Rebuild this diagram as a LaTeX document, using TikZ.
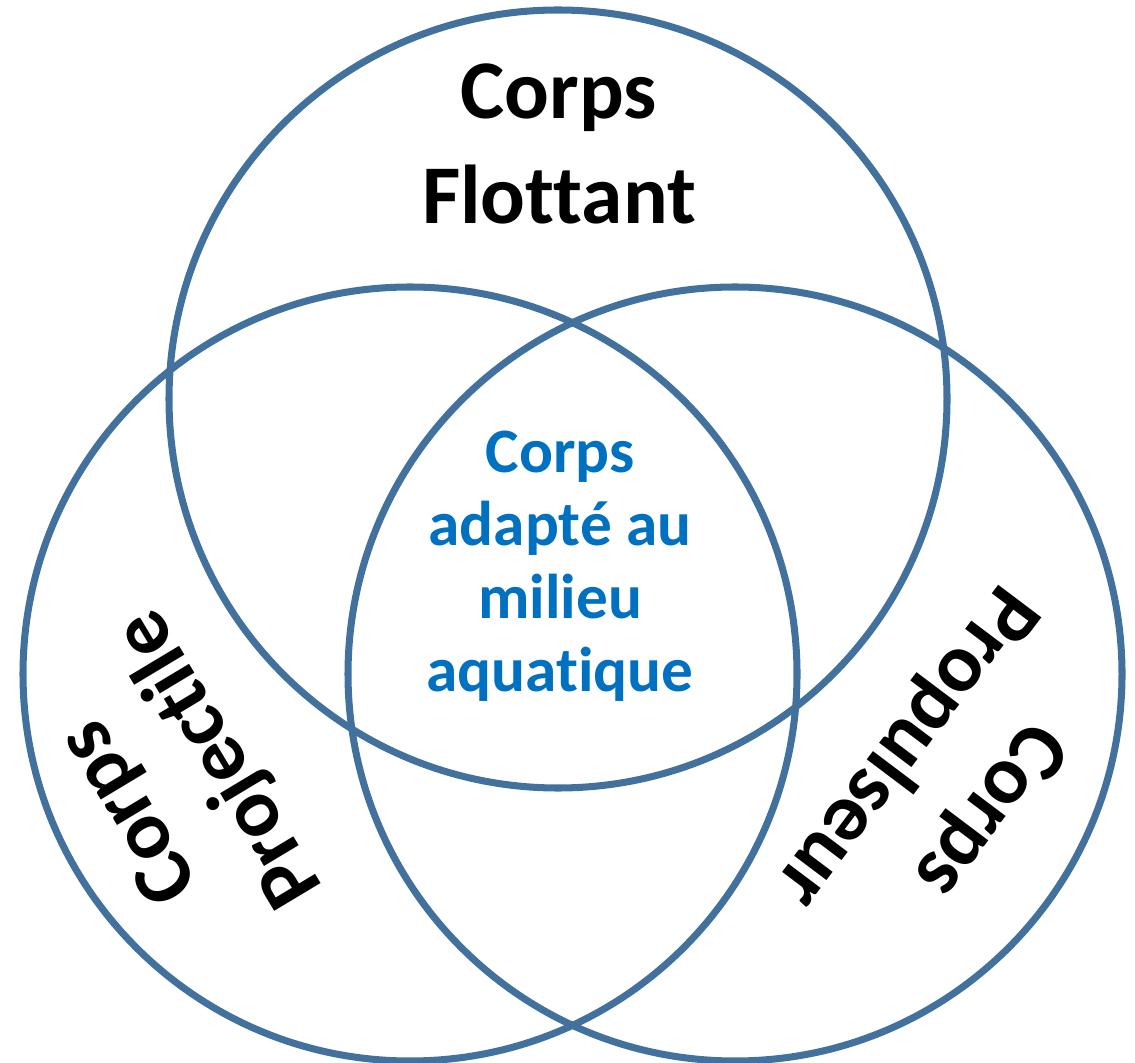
\documentclass[tikz,border=0pt]{standalone}
\usepackage{fontspec}
\setmainfont[Ligatures=NoCommon]{Carlito}
\usepackage{xcolor}
\usepackage{tikz}

\definecolor{ringblue}{HTML}{41719C}
\definecolor{textblue}{HTML}{0070C0}

\begin{document}
\begin{tikzpicture}

\useasboundingbox (0,0) rectangle (22.7,21.24);

\foreach \x/\y/\r in {11.16/13.26/7.78, 8.2/7.76/7.74, 14.7/7.76/7.74}{
	\draw[color=ringblue, line width=4pt] (\x,\y) circle (\r);
}

\node[align=center, inner sep=0, font=\fontsize{47.5}{59.8}\selectfont\bfseries] (flottant) at (11.18,18.36) {Corps\\Flottant};

\node[align=center, inner sep=0, text=textblue, font=\fontsize{36}{41.6}\selectfont\bfseries] (milieu) at (11.2,9.91) {Corps\\adapté au\\milieu\\aquatique};

\node[align=center, inner sep=0, rotate=121, font=\fontsize{47.5}{59.8}\selectfont\bfseries] (projectile) at (3.54,5.56) {Corps\\Projectile};

\node[align=center, inner sep=0, rotate=-127, font=\fontsize{47.5}{59.8}\selectfont\bfseries] (propulseur) at (18.92,5.70) {Corps\\Propulseur};

\end{tikzpicture}
\end{document}
